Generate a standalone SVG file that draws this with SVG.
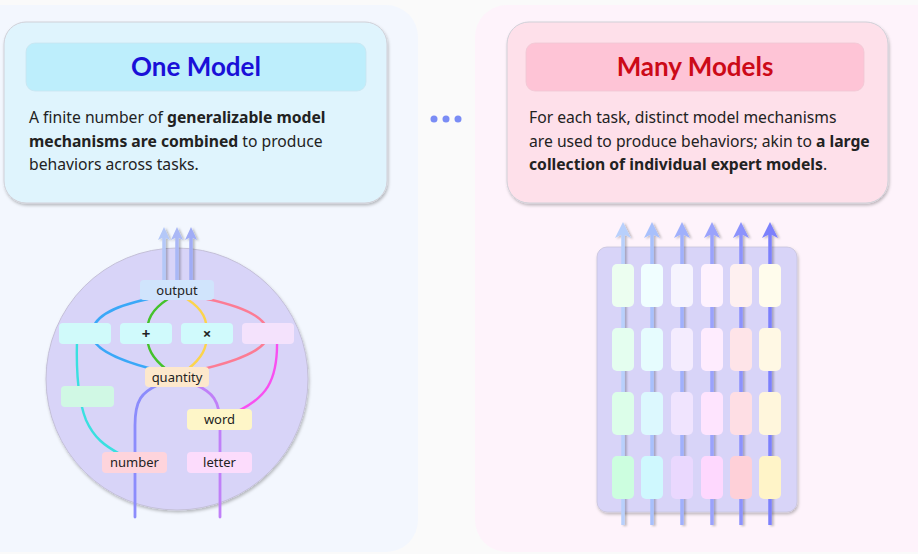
<svg xmlns="http://www.w3.org/2000/svg" width="918" height="554" viewBox="0 0 918 554">
<defs>
<filter id="sh" x="-10%" y="-10%" width="120%" height="130%"><feDropShadow dx="1" dy="2" stdDeviation="1.5" flood-color="#000" flood-opacity="0.25"/></filter>
<filter id="sh2" x="-50%" y="-10%" width="200%" height="120%"><feDropShadow dx="2" dy="1" stdDeviation="1" flood-color="#000" flood-opacity="0.25"/></filter>
<style>
.card{stroke:#d0d0d8;stroke-width:1;filter:url(#sh)}
.title{font-family:Lato,"Open Sans",sans-serif;font-weight:700;font-size:26px;text-anchor:middle}
.body{font-family:"Noto Sans","Open Sans",sans-serif;font-size:15.7px;fill:#222}
.b{font-weight:700}
.lbl{font-family:"Noto Sans","Open Sans",sans-serif;font-size:13px;fill:#222;text-anchor:middle}
.op{font-family:"Noto Sans","Open Sans",sans-serif;font-size:15px;font-weight:700;fill:#222;text-anchor:middle}
.c{fill:none;stroke-width:2.4;stroke-linecap:round}
.a{fill:none;stroke-width:3.5}
.nb{stroke:none}
</style>
</defs>
<rect x="0" y="0" width="918" height="554" fill="#fafafa"/>
<rect x="-30" y="5" width="448" height="547" rx="32" fill="#f3f7fe"/>
<rect x="475" y="5" width="475" height="547" rx="32" fill="#fef3fb"/>

<g id="card-one">
<rect class="card" x="4" y="22" width="383" height="181" rx="22" fill="#dff4fd"/>
<rect x="26" y="43" width="340" height="48" rx="9" fill="#bdeefc" stroke="#c8e4f0" stroke-width="0.8"/>
<text class="title" x="196" y="76" fill="#1a10d8">One Model</text>
<text class="body" x="29" y="123">A finite number of <tspan class="b">generalizable model</tspan></text>
<text class="body" x="29" y="147"><tspan class="b">mechanisms are combined</tspan> to produce</text>
<text class="body" x="29" y="170">behaviors across tasks.</text>
</g>

<g id="card-many">
<rect class="card" x="507" y="22" width="381" height="181" rx="22" fill="#fee0ea"/>
<rect x="526" y="43" width="338" height="48" rx="9" fill="#fec4d6" stroke="#f0c8d4" stroke-width="0.8"/>
<text class="title" x="695" y="76" fill="#cc0a18">Many Models</text>
<text class="body" x="529" y="123">For each task, distinct model mechanisms</text>
<text class="body" x="529" y="147">are used to produce behaviors; akin to <tspan class="b">a large</tspan></text>
<text class="body" x="529" y="170"><tspan class="b">collection of individual expert models</tspan>.</text>
</g>

<g id="dots" fill="#7a8cf5">
<circle cx="434" cy="119" r="3.5"/><circle cx="446" cy="119" r="3.5"/><circle cx="458" cy="119" r="3.5"/>
</g>

<g id="one-model-circle">
<circle cx="177" cy="379" r="131" fill="#d8d4f8" stroke="#c4c0d8" stroke-width="1" filter="url(#sh)"/>
</g>

<g id="connectors">
<g filter="url(#sh2)">
<line class="a" x1="164" y1="236" x2="164" y2="281" stroke="#b4c8f8"/>
<polygon points="164,227 170,240 164,237 158,240" fill="#b4c8f8"/>
<line class="a" x1="177" y1="236" x2="177" y2="281" stroke="#aab8f6"/>
<polygon points="177,227 183,240 177,237 171,240" fill="#aab8f6"/>
<line class="a" x1="191" y1="236" x2="191" y2="281" stroke="#a0acf6"/>
<polygon points="191,227 197,240 191,237 185,240" fill="#a0acf6"/>
</g>
<path class="c" stroke="#3aa8f8" d="M148,299 C110,307 92,318 92,334 C92,350 125,362 152,369"/>
<path class="c" stroke="#44c22c" d="M168,299 C151,310 147,320 147,334 C147,348 152,358 166,369"/>
<path class="c" stroke="#fcd44c" d="M187,299 C204,310 207,320 207,334 C207,348 202,358 188,369"/>
<path class="c" stroke="#fc7c94" d="M207,299 C245,307 268,318 268,334 C268,350 233,362 203,369"/>
<path class="c" stroke="#3ae0e0" d="M77,340 C76,375 78,400 86,420 C94,438 105,446 120,454"/>
<path class="c" stroke="#f850f0" d="M277,340 C278,382 265,398 238,411"/>
<path class="c" stroke="#8c8cfc" style="stroke-width:2.8" d="M135,517 L135,425 C135,400 142,392 158,385"/>
<path class="c" stroke="#c080f8" style="stroke-width:2.8" d="M220,517 L220,425 C220,400 212,392 196,385"/>
</g>

<g id="n-output"><rect class="nb" x="140" y="280" width="74" height="20" rx="4" fill="#d0e4fc"/><text class="lbl" x="177" y="294.5">output</text></g>
<g id="n-a"><rect class="nb" x="59" y="323" width="52" height="21" rx="4" fill="#d0fafa"/></g>
<g id="n-plus"><rect class="nb" x="120" y="323" width="52" height="21" rx="4" fill="#d0fafc"/><text class="op" x="146" y="339">+</text></g>
<g id="n-times"><rect class="nb" x="181" y="323" width="52" height="21" rx="4" fill="#d0fafc"/><text class="op" x="207" y="339">×</text></g>
<g id="n-d"><rect class="nb" x="242" y="323" width="52" height="21" rx="4" fill="#f4e2fc"/></g>
<g id="n-quantity"><rect class="nb" x="145" y="367" width="64" height="20" rx="4" fill="#fde8cc"/><text class="lbl" x="177" y="381.5">quantity</text></g>
<g id="n-green"><rect class="nb" x="61" y="386" width="53" height="21" rx="4" fill="#d0f8e4"/></g>
<g id="n-word"><rect class="nb" x="187" y="409" width="65" height="21" rx="4" fill="#fef6c8"/><text class="lbl" x="219.5" y="424">word</text></g>
<g id="n-number"><rect class="nb" x="102" y="452" width="65" height="21" rx="4" fill="#fed4dc"/><text class="lbl" x="134.5" y="467">number</text></g>
<g id="n-letter"><rect class="nb" x="187" y="452" width="65" height="21" rx="4" fill="#fcdcfc"/><text class="lbl" x="219.5" y="467">letter</text></g>

<g id="many-models-panel">
<rect x="597" y="247" width="200" height="265" rx="10" fill="#d8d4f8" stroke="#c8c4dc" stroke-width="0.8" filter="url(#sh)"/>
</g>

<g id="many-connectors" filter="url(#sh2)">
<line class="a" x1="623" y1="234" x2="623" y2="525" stroke="#b8d0fc"/>
<polygon points="623,222 631,238 623,234 615,238" fill="#b8d0fc"/>
<line class="a" x1="652" y1="234" x2="652" y2="525" stroke="#a8c0fc"/>
<polygon points="652,222 660,238 652,234 644,238" fill="#a8c0fc"/>
<line class="a" x1="682" y1="234" x2="682" y2="525" stroke="#a0b0fc"/>
<polygon points="682,222 690,238 682,234 674,238" fill="#a0b0fc"/>
<line class="a" x1="712" y1="234" x2="712" y2="525" stroke="#9aa2fc"/>
<polygon points="712,222 720,238 712,234 704,238" fill="#9aa2fc"/>
<line class="a" x1="741" y1="234" x2="741" y2="525" stroke="#8c92fc"/>
<polygon points="741,222 749,238 741,234 733,238" fill="#8c92fc"/>
<line class="a" x1="770" y1="234" x2="770" y2="525" stroke="#7c80fc"/>
<polygon points="770,222 778,238 770,234 762,238" fill="#7c80fc"/>
</g>

<g id="expert-col-1">
<rect x="612" y="264" width="22" height="43" rx="5" fill="#ecfef0"/>
<rect x="612" y="328" width="22" height="43" rx="5" fill="#e4feef"/>
<rect x="612" y="392" width="22" height="43" rx="5" fill="#dcfee9"/>
<rect x="612" y="456" width="22" height="43" rx="5" fill="#ccfedf"/>
</g>
<g id="expert-col-2">
<rect x="641" y="264" width="22" height="43" rx="5" fill="#f0feff"/>
<rect x="641" y="328" width="22" height="43" rx="5" fill="#e6fcfe"/>
<rect x="641" y="392" width="22" height="43" rx="5" fill="#dcf8fe"/>
<rect x="641" y="456" width="22" height="43" rx="5" fill="#cff8fe"/>
</g>
<g id="expert-col-3">
<rect x="671" y="264" width="22" height="43" rx="5" fill="#f6f4fe"/>
<rect x="671" y="328" width="22" height="43" rx="5" fill="#f4ecfe"/>
<rect x="671" y="392" width="22" height="43" rx="5" fill="#f0e4fe"/>
<rect x="671" y="456" width="22" height="43" rx="5" fill="#ead8fe"/>
</g>
<g id="expert-col-4">
<rect x="701" y="264" width="22" height="43" rx="5" fill="#fef2fe"/>
<rect x="701" y="328" width="22" height="43" rx="5" fill="#feecfe"/>
<rect x="701" y="392" width="22" height="43" rx="5" fill="#fee4fe"/>
<rect x="701" y="456" width="22" height="43" rx="5" fill="#fed8fe"/>
</g>
<g id="expert-col-5">
<rect x="730" y="264" width="22" height="43" rx="5" fill="#fef0f0"/>
<rect x="730" y="328" width="22" height="43" rx="5" fill="#fee4e8"/>
<rect x="730" y="392" width="22" height="43" rx="5" fill="#fedee4"/>
<rect x="730" y="456" width="22" height="43" rx="5" fill="#fed0d8"/>
</g>
<g id="expert-col-6">
<rect x="759" y="264" width="22" height="43" rx="5" fill="#fffcec"/>
<rect x="759" y="328" width="22" height="43" rx="5" fill="#fff8e4"/>
<rect x="759" y="392" width="22" height="43" rx="5" fill="#fff6dc"/>
<rect x="759" y="456" width="22" height="43" rx="5" fill="#fff4c8"/>
</g>
</svg>
